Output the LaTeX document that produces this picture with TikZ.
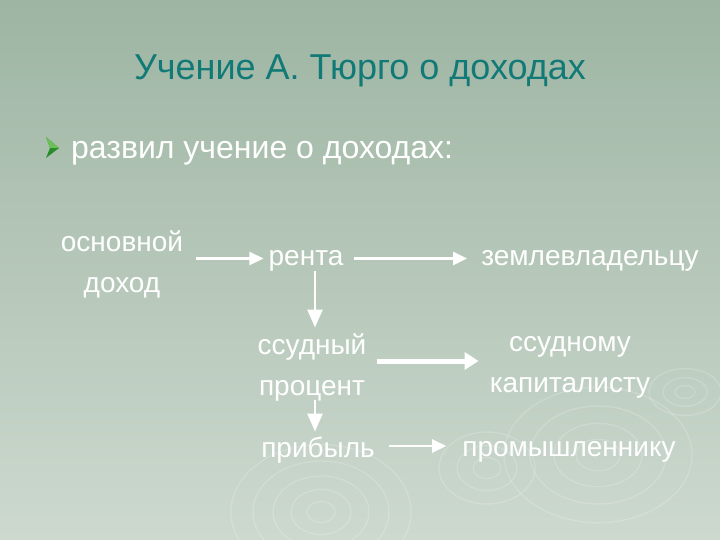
\documentclass[tikz,border=0pt]{standalone}
\usepackage{fontspec}
\setmainfont{Liberation Sans}
\usetikzlibrary{arrows.meta}

\definecolor{bgtop}{RGB}{158,181,163}
\definecolor{bgmid}{RGB}{166,187,170}
\definecolor{bgbot}{RGB}{205,217,207}
\definecolor{titleteal}{RGB}{18,122,118}
\definecolor{bulletgreen}{RGB}{40,140,40}
\definecolor{bulletlight}{RGB}{110,190,90}

\tikzset{
    txt/.style={text=white, inner sep=0pt, align=center, font=\fontsize{28}{41}\selectfont},
    single/.style={txt, text height=14.5pt, text depth=0pt},
    arr/.style={draw=white, line width=2.5pt, -{Triangle[length=14pt,width=13pt]}},
    downarr/.style={draw=white, line width=2.5pt, -{Triangle[length=18pt,width=15pt]}},
    thickarr/.style={draw=white, line width=5pt, -{Triangle[length=14pt,width=17pt]}},
    ripple/.style={draw=white, opacity=0.18, line width=1.3pt}
}

\begin{document}
\begin{tikzpicture}[x=1pt, y=-1pt]
    % Background
    \shade[top color=bgtop, middle color=bgmid, bottom color=bgbot] (0,0) rectangle (720,540);
    \useasboundingbox (0,0) rectangle (720,540);

    % Ripples
    \foreach \r in {14,30,48,68,90} \draw[ripple] (321,512) ellipse ({\r} and {0.75*\r});
    \foreach \r in {14,30,48} \draw[ripple] (487,468) ellipse ({\r} and {0.75*\r});
    \foreach \r in {22,44,68,94} \draw[ripple] (598,455) ellipse ({\r} and {0.72*\r});
    \foreach \r in {10,22,36} \draw[ripple] (685,392) ellipse ({\r} and {0.65*\r});

    % Title and bullet
    \node[anchor=base, text=titleteal, inner sep=0pt, font=\fontsize{36}{43}\selectfont] (title) at (360,80) {Учение А. Тюрго о доходах};
    \fill[bulletgreen] (46,137) -- (59,148) -- (46,158) -- (50,148) -- cycle;
    \fill[bulletlight] (46,137) -- (59,148) -- (50,148) -- cycle;
    \node[anchor=base west, text=white, inner sep=0pt, font=\fontsize{32}{40}\selectfont] (intro) at (71,159) {развил учение о доходах:};

    % Incomes
    \node[txt] (osn) at (122,264.5) {основной\\доход};
    \node[single] (renta) at (306,258.5) {рента};
    \node[txt] (ssud) at (312,367.5) {ссудный\\процент};
    \node[single] (prib) at (318,450) {прибыль};

    % Receivers
    \node[single] (zeml) at (590,258) {землевладельцу};
    \node[txt] (kap) at (570,367) {ссудному\\капиталисту};
    \node[single] (prom) at (569,449) {промышленнику};

    % Arrows
    \draw[arr, shorten <=13pt, shorten >=5pt] (osn.east |- renta.west) -- (renta.west);
    \draw[arr, shorten <=10pt, shorten >=14pt] (renta.east) -- (zeml.west |- renta.east);
    \draw[downarr, shorten <=5pt, shorten >=6pt] ([xshift=9pt]renta.south) -- ([xshift=9pt]renta.south |- ssud.north);
    \draw[thickarr, shorten <=10pt, shorten >=11pt] ([yshift=6.5pt]ssud.east) -- ([yshift=6.5pt]ssud.east -| kap.west);
    \draw[downarr, shorten <=-1pt, shorten >=11pt] ([xshift=3pt]ssud.south) -- ([xshift=3pt]ssud.south |- prib.north);
    \draw[arr, shorten <=14pt, shorten >=16pt] ([yshift=4pt]prib.east) -- ([yshift=4pt]prib.east -| prom.west);
\end{tikzpicture}
\end{document}
